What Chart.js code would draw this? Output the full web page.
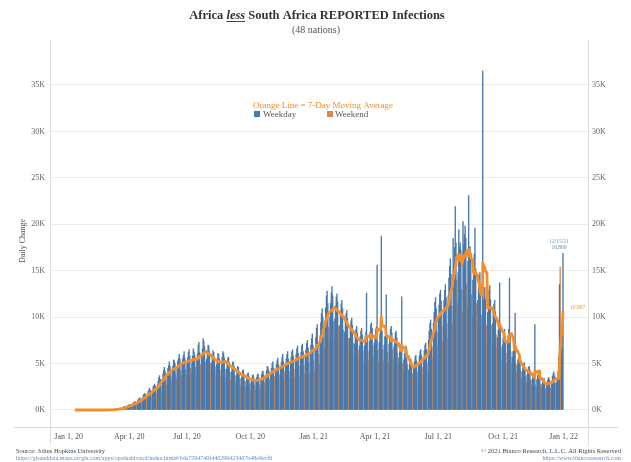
<!DOCTYPE html>
<html>
<head>
<meta charset="utf-8">
<script src="https://cdn.jsdelivr.net/npm/chart.js@4.4.0/dist/chart.umd.min.js"></script>
<style>
  html, body { margin: 0; padding: 0; background: #fff; }
  canvas { display: block; }
</style>
</head>
<body>
<canvas id="chart" width="631" height="462"></canvas>
<script>
// daily reported cases, Africa less South Africa
// 2020: Jan 22 .. Dec 31, one line per week (Mon..Sun)
const cases2020 = [
  0, 0, 0, 0, 0,
  0, 0, 0, 0, 0, 0, 0,
  0, 0, 0, 0, 0, 0, 0,
  0, 0, 0, 0, 1, 0, 0,
  0, 0, 0, 0, 0, 0, 0,
  0, 0, 0, 1, 0, 0, 0,
  2, 1, 3, 2, 5, 4, 6,
  8, 10, 12, 15, 20, 25, 30,
  40, 55, 60, 80, 95, 110, 100,
  120, 140, 150, 170, 180, 150, 140,
  300, 330, 360, 380, 370, 300, 270,
  480, 520, 590, 620, 600, 460, 400,
  700, 790, 860, 900, 850, 680, 560,
  1000, 1150, 1250, 1320, 1200, 950, 850,
  1350, 1600, 1700, 1800, 1650, 1300, 1100,
  1750, 2000, 2200, 2350, 2100, 1650, 1400,
  2100, 2500, 2650, 2800, 2550, 2000, 1700,
  2700, 3100, 3500, 3700, 3300, 2600, 2200,
  3300, 3900, 4300, 4600, 4100, 3200, 2700,
  3900, 4500, 4800, 5200, 4700, 3600, 3100,
  4200, 4700, 5400, 5300, 5000, 3900, 3300,
  4600, 5300, 5600, 6000, 5500, 4200, 3700,
  4800, 5500, 5900, 6300, 5600, 4400, 3800,
  5000, 5600, 6200, 6500, 5800, 4500, 3900,
  5100, 5800, 6600, 6300, 5900, 4600, 3800,
  5400, 6100, 7000, 7300, 6200, 4900, 4100,
  5800, 6600, 7700, 7400, 6800, 5200, 4400,
  5500, 6400, 7000, 6900, 6300, 5000, 4000,
  5100, 5800, 6400, 6200, 5700, 4600, 3800,
  4900, 5500, 6100, 6000, 5500, 4300, 3600,
  4900, 5700, 6300, 6100, 5600, 4400, 3500,
  4400, 5200, 5600, 5700, 5100, 4000, 3200,
  4100, 4600, 5200, 5100, 4700, 3700, 2900,
  3700, 4200, 4700, 4600, 4200, 3300, 2600,
  3400, 3900, 4300, 4300, 3900, 3100, 2400,
  3100, 3600, 3900, 4000, 3600, 2800, 2200,
  3000, 3400, 3700, 3800, 3500, 2700, 2100,
  3000, 3500, 3800, 3900, 3500, 2700, 2200,
  3300, 3800, 4100, 4200, 3800, 3000, 2400,
  3700, 4200, 4700, 4600, 4300, 3300, 2700,
  4000, 4500, 5000, 5200, 4500, 3600, 2900,
  4200, 4900, 5300, 5600, 4900, 3800, 3000,
  4500, 5100, 5700, 6000, 5200, 4100, 3200,
  4800, 5500, 6000, 6300, 5500, 4200, 3400,
  5000, 5700, 6300, 6500, 5800, 4400, 3500,
  5300, 6000, 6600, 6900, 6100, 4700, 3700,
  5500, 6200, 6900, 7100, 6300, 4800, 3900,
  5700, 6500, 7200, 7500, 6700, 5100, 4000,
  6100, 7000, 7700, 8200, 7000, 5300, 4200,
  6500, 7800, 8800, 9200
];
// 2021: Jan 1 .. Dec 15
const cases2021 = [
  7200, 6000, 4900,
  8000, 9400, 10400, 10900, 10000, 7800, 6600,
  9600, 11000, 12300, 12800, 11500, 8900, 7400,
  10000, 11500, 12600, 13300, 12300, 9500, 7800,
  9800, 11200, 12200, 12500, 11600, 9000, 7900,
  9100, 10400, 11400, 11800, 10900, 8600, 7100,
  8400, 9500, 10400, 10700, 9800, 7700, 6600,
  7700, 8800, 9600, 9900, 9100, 7200, 5800,
  7100, 8100, 8700, 9000, 8300, 6500, 5500,
  6900, 7900, 8500, 8800, 8100, 6400, 5200,
  6900, 7900, 8400, 12600, 8000, 6300, 5300,
  7400, 8400, 9200, 9400, 8800, 6900, 5700,
  7200, 8000, 8700, 8900, 15600, 6500, 5200,
  7300, 8200, 8800, 18700, 8500, 6500, 5300,
  7000, 7900, 8500, 12400, 8100, 6200, 5100,
  7100, 8000, 8700, 9000, 8300, 6500, 5300,
  6800, 7600, 8300, 8500, 7800, 6100, 5000,
  5600, 6300, 6800, 7000, 12200, 5000, 4100,
  5400, 6100, 6700, 6900, 6300, 4900, 3900,
  4300, 4900, 5300, 5500, 5000, 3900, 3200,
  4600, 5200, 5700, 5900, 5300, 4100, 3400,
  5100, 5800, 6300, 6500, 5900, 4600, 3800,
  5600, 6400, 7000, 7200, 6500, 5000, 4100,
  7500, 8500, 9300, 9700, 8700, 6800, 5600,
  9300, 10500, 11600, 12100, 10900, 8400, 6900,
  9900, 11300, 12500, 12900, 11700, 9000, 7400,
  10300, 11800, 12900, 13500, 12100, 9300, 7700,
  12300, 14200, 15500, 16300, 14600, 11200, 9300,
  18500, 15600, 17500, 21900, 18000, 14000, 11500,
  14800, 19400, 17500, 18000, 17200, 13000, 10500,
  20300, 17800, 18900, 19800, 18500, 13600, 11200,
  16000, 23100, 17500, 17600, 16400, 12400, 10000,
  14000, 15600, 16800, 19600, 15200, 11500, 9000,
  11800, 13200, 14500, 14800, 13300, 10200, 8400,
  36500, 11800, 12900, 13200, 11900, 9100, 7600,
  10500, 11800, 12800, 13400, 11900, 9100, 7500,
  9300, 10500, 11400, 11800, 10600, 8100, 6700,
  7800, 8600, 9300, 13700, 8700, 6700, 5500,
  7000, 7800, 8400, 8700, 7900, 6100, 5000,
  7200, 8000, 8700, 14200, 8100, 6300, 5100,
  5700, 6300, 6800, 7000, 10400, 5000, 4100,
  4800, 5400, 5800, 6000, 5400, 4200, 3400,
  4100, 4600, 5000, 5100, 4600, 3600, 2900,
  3800, 4200, 4600, 4700, 4300, 3300, 2700,
  3200, 3500, 3800, 3900, 9200, 2700, 2300,
  3300, 3700, 4000, 4100, 3700, 2800, 2300,
  2700, 3000, 3300, 3400, 3000, 2300, 1900,
  2800, 3200, 3400, 3500, 3200, 2400, 2000,
  3100, 3600, 3900, 4100, 3700, 2900, 2300,
  3000, 3500, 4200, 5800, 13500, 15400, 8000,
  6600, 8500, 16869
];

// label positions as they sit under the reference axis
const tickDays = [12, 98, 180, 270, 360, 447, 537, 629, 715];
const tickLabels = ['Jan 1, 20', 'Apr 1, 20', 'Jul 1, 20', 'Oct 1, 20', 'Jan 1, 21', 'Apr 1, 21', 'Jul 1, 21', 'Oct 1, 21', 'Jan 1, 22'];
const yTicks = [0, 5000, 10000, 15000, 20000, 25000, 30000, 35000];

// day index counts from Jan 1, 2020 (a Wednesday)
const first2020 = 21;
const first2021 = 366;

const days = [];
cases2020.forEach((v, i) => days.push({ day: first2020 + i, value: v }));
cases2021.forEach((v, i) => days.push({ day: first2021 + i, value: v }));

const isWeekend = d => { const dow = (d + 3) % 7; return dow === 0 || dow === 6; };

const weekdayPts = days.filter(p => !isWeekend(p.day)).map(p => ({ x: p.day, y: p.value }));
const weekendPts = days.filter(p => isWeekend(p.day)).map(p => ({ x: p.day, y: p.value }));
const maPts = days.map((p, i) => {
  const win = days.slice(Math.max(0, i - 6), i + 1);
  return { x: p.day, y: win.reduce((s, q) => s + q.value, 0) / win.length };
});

const BLUE = '#4a78ab';
const ORANGE = '#f28e2b';
const WEEKEND = '#d9894c';
const SERIF = '"Liberation Serif", "DejaVu Serif", serif';

const extras = {
  id: 'extras',
  afterDraw(chart) {
    const c = chart.ctx;
    const xs = chart.scales.x, ys = chart.scales.y;
    c.save();
    // frame
    c.strokeStyle = '#dcdcdc';
    c.lineWidth = 1;
    c.beginPath();
    c.moveTo(50.5, 40); c.lineTo(50.5, 445);
    c.moveTo(588.5, 40); c.lineTo(588.5, 445);
    c.moveTo(14, 427.5); c.lineTo(618, 427.5);
    c.stroke();

    // title
    c.textBaseline = 'middle';
    c.fillStyle = '#333';
    const parts = [
      { t: 'Africa ', f: 'bold 12.5px ' + SERIF },
      { t: 'less', f: 'italic bold 12.5px ' + SERIF, u: true },
      { t: ' South Africa REPORTED Infections', f: 'bold 12.5px ' + SERIF }
    ];
    let total = 0;
    parts.forEach(p => { c.font = p.f; p.w = c.measureText(p.t).width; total += p.w; });
    let x = 317 - total / 2;
    c.textAlign = 'left';
    parts.forEach(p => {
      c.font = p.f;
      c.fillText(p.t, x, 16);
      if (p.u) c.fillRect(x, 21, p.w, 0.9);
      x += p.w;
    });
    c.textAlign = 'center';
    c.fillStyle = '#555';
    c.font = '10px ' + SERIF;
    c.fillText('(48 nations)', 316, 30);

    // axis title
    c.save();
    c.translate(23, 241);
    c.rotate(-Math.PI / 2);
    c.font = '8px ' + SERIF;
    c.fillStyle = '#555';
    c.fillText('Daily Change', 0, 0);
    c.restore();

    // legend
    c.textAlign = 'left';
    c.font = '9px ' + SERIF;
    c.fillStyle = ORANGE;
    c.fillText('Orange Line = 7-Day Moving Average', 253, 106);
    c.fillStyle = BLUE;
    c.fillRect(254, 111, 6, 6);
    c.fillStyle = WEEKEND;
    c.fillRect(327, 111, 6, 6);
    c.fillStyle = '#555';
    c.fillText('Weekday', 263, 114.5);
    c.fillText('Weekend', 335, 114.5);

    // end labels
    const last = days[days.length - 1];
    const lastMa = maPts[maPts.length - 1];
    const lx = xs.getPixelForValue(last.day);
    c.textAlign = 'center';
    c.font = '5.5px ' + SERIF;
    c.fillStyle = '#6b93c0';
    c.fillText('12/15/21', lx - 4, ys.getPixelForValue(last.value) - 12);
    c.fillText(last.value.toLocaleString('en-US'), lx - 4, ys.getPixelForValue(last.value) - 6);
    c.textAlign = 'left';
    c.fillStyle = ORANGE;
    c.fillText(Math.round(lastMa.y).toLocaleString('en-US'), lx + 7, ys.getPixelForValue(lastMa.y) - 3);

    // footer
    c.font = '6.5px ' + SERIF;
    c.fillStyle = '#444';
    c.fillText('Source: Johns Hopkins University', 16, 451);
    c.textAlign = 'right';
    c.fillText('\u00a9 2021 Bianco Research, L.L.C. All Rights Reserved', 621, 451);
    c.fillStyle = '#5b8fc6';
    c.font = '6px ' + SERIF;
    c.fillText('https://www.biancoresearch.com', 621, 458);
    c.textAlign = 'left';
    c.fillText('https://gisanddata.maps.arcgis.com/apps/opsdashboard/index.html#/bda7594740fd40299423467b48e9ecf6', 16, 458);
    c.restore();
  }
};

const yAxis = (pos, pad, width) => ({
  position: pos,
  min: -1831,
  max: 39846,
  afterFit: s => { s.width = width; },
  afterBuildTicks: s => { s.ticks = yTicks.map(v => ({ value: v })); },
  grid: { display: pos === 'left', color: '#ececec', drawTicks: false },
  border: { display: false },
  ticks: {
    padding: pad,
    color: '#666',
    font: { family: SERIF, size: 8 },
    callback: v => (v / 1000) + 'K'
  }
});

new Chart(document.getElementById('chart').getContext('2d'), {
  type: 'bar',
  data: {
    datasets: [
      {
        type: 'line',
        label: '7-Day Moving Average',
        data: maPts,
        borderColor: ORANGE,
        borderWidth: 2.8,
        borderJoinStyle: 'round',
        pointRadius: 0,
        order: 0
      },
      {
        label: 'Weekday',
        data: weekdayPts,
        backgroundColor: BLUE,
        grouped: false,
        barPercentage: 1,
        categoryPercentage: 1,
        order: 1
      },
      {
        label: 'Weekend',
        data: weekendPts,
        backgroundColor: WEEKEND,
        grouped: false,
        barPercentage: 1,
        categoryPercentage: 1,
        order: 2
      }
    ]
  },
  options: {
    responsive: false,
    animation: false,
    layout: { padding: { top: 40, left: 0, right: 0, bottom: 0 } },
    plugins: { legend: { display: false }, tooltip: { enabled: false } },
    scales: {
      x: {
        type: 'linear',
        offset: false,
        min: -14.5,
        max: 749.5,
        afterFit: s => { s.height = 35; },
        afterBuildTicks: s => { s.ticks = tickDays.map(v => ({ value: v })); },
        grid: { display: false, drawTicks: false, offset: false },
        border: { display: false },
        ticks: {
          autoSkip: false,
          maxRotation: 0,
          padding: 5,
          color: '#555',
          font: { family: SERIF, size: 8 },
          callback: v => tickLabels[tickDays.indexOf(v)]
        }
      },
      y: yAxis('left', 5, 50),
      y2: yAxis('right', 4, 43)
    }
  },
  plugins: [extras]
});
</script>
</body>
</html>
